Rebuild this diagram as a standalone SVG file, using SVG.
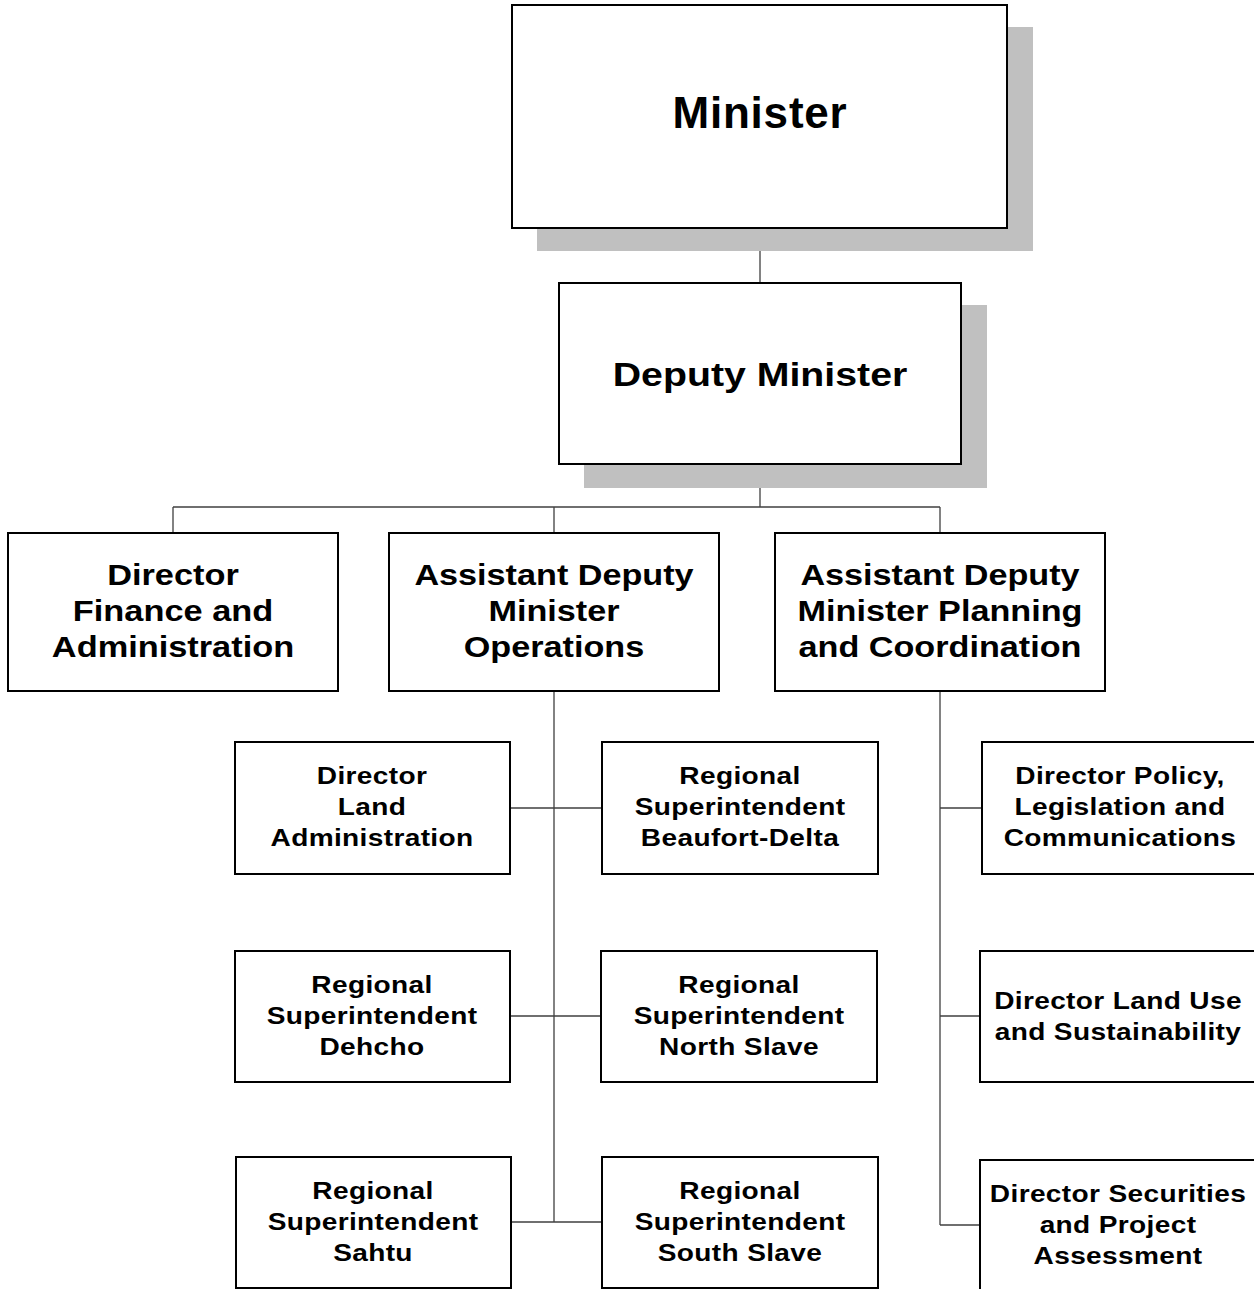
<svg xmlns="http://www.w3.org/2000/svg" width="1254" height="1289" viewBox="0 0 1254 1289">
<style>
.box{fill:#fff;stroke:#000;stroke-width:2}
.sh{fill:#c0c0c0}
.t{font-family:"Liberation Sans",Arial,sans-serif;font-weight:bold;fill:#000;text-anchor:middle}
.t1{font-size:44px;letter-spacing:0.8px}
.t2{font-size:33px}
.t3{font-size:30px}
.t4{font-size:24px;letter-spacing:0.3px}
.c{stroke:#404040;stroke-width:1.3;fill:none}
</style>
<rect width="1254" height="1289" fill="#fff"/>
<g id="connectors">
<path class="c" d="M760 228V283M760 464V507M173 507H940M173 507V533M554 507V533M940 507V533"/>
<path class="c" d="M554 691V1222M510 808H602M510 1016H601M511 1222H602"/>
<path class="c" d="M940 691V1225M940 808H982M940 1016H980M940 1225H980"/>
</g>
<g id="minister">
<rect class="sh" x="537" y="27" width="496" height="224"/>
<rect class="box" x="512" y="5" width="495" height="223"/>
<text class="t t1" x="760" y="128">Minister</text>
</g>
<g id="deputy-minister">
<rect class="sh" x="584" y="305" width="403" height="183"/>
<rect class="box" x="559" y="283" width="402" height="181"/>
<g transform="translate(760 0) scale(1.19 1)"><text class="t t2" x="0" y="386">Deputy Minister</text></g>
</g>
<g id="dir-finance">
<rect class="box" x="8" y="533" width="330" height="158"/>
<g transform="translate(173 0) scale(1.145 1)">
<text class="t t3" x="0" y="585">Director</text>
<text class="t t3" x="0" y="621">Finance and</text>
<text class="t t3" x="0" y="657">Administration</text>
</g>
</g>
<g id="adm-operations">
<rect class="box" x="389" y="533" width="330" height="158"/>
<g transform="translate(554 0) scale(1.14 1)">
<text class="t t3" x="0" y="585">Assistant Deputy</text>
<text class="t t3" x="0" y="621">Minister</text>
<text class="t t3" x="0" y="657">Operations</text>
</g>
</g>
<g id="adm-planning">
<rect class="box" x="775" y="533" width="330" height="158"/>
<g transform="translate(940 0) scale(1.14 1)">
<text class="t t3" x="0" y="585">Assistant Deputy</text>
<text class="t t3" x="0" y="621">Minister Planning</text>
<text class="t t3" x="0" y="657">and Coordination</text>
</g>
</g>
<g id="dir-land-admin">
<rect class="box" x="235" y="742" width="275" height="132"/>
<g transform="translate(372 0) scale(1.17 1)">
<text class="t t4" x="0" y="784">Director</text>
<text class="t t4" x="0" y="815">Land</text>
<text class="t t4" x="0" y="846">Administration</text>
</g>
</g>
<g id="rs-beaufort">
<rect class="box" x="602" y="742" width="276" height="132"/>
<g transform="translate(740 0) scale(1.17 1)">
<text class="t t4" x="0" y="784">Regional</text>
<text class="t t4" x="0" y="815">Superintendent</text>
<text class="t t4" x="0" y="846">Beaufort-Delta</text>
</g>
</g>
<g id="rs-dehcho">
<rect class="box" x="235" y="951" width="275" height="131"/>
<g transform="translate(372 0) scale(1.17 1)">
<text class="t t4" x="0" y="993">Regional</text>
<text class="t t4" x="0" y="1024">Superintendent</text>
<text class="t t4" x="0" y="1055">Dehcho</text>
</g>
</g>
<g id="rs-north-slave">
<rect class="box" x="601" y="951" width="276" height="131"/>
<g transform="translate(739 0) scale(1.17 1)">
<text class="t t4" x="0" y="993">Regional</text>
<text class="t t4" x="0" y="1024">Superintendent</text>
<text class="t t4" x="0" y="1055">North Slave</text>
</g>
</g>
<g id="rs-sahtu">
<rect class="box" x="236" y="1157" width="275" height="131"/>
<g transform="translate(373 0) scale(1.17 1)">
<text class="t t4" x="0" y="1199">Regional</text>
<text class="t t4" x="0" y="1230">Superintendent</text>
<text class="t t4" x="0" y="1261">Sahtu</text>
</g>
</g>
<g id="rs-south-slave">
<rect class="box" x="602" y="1157" width="276" height="131"/>
<g transform="translate(740 0) scale(1.17 1)">
<text class="t t4" x="0" y="1199">Regional</text>
<text class="t t4" x="0" y="1230">Superintendent</text>
<text class="t t4" x="0" y="1261">South Slave</text>
</g>
</g>
<g id="dir-policy">
<rect class="box" x="982" y="742" width="276" height="132"/>
<g transform="translate(1120 0) scale(1.17 1)">
<text class="t t4" x="0" y="784">Director Policy,</text>
<text class="t t4" x="0" y="815">Legislation and</text>
<text class="t t4" x="0" y="846">Communications</text>
</g>
</g>
<g id="dir-land-use">
<rect class="box" x="980" y="951" width="278" height="131"/>
<g transform="translate(1118 0) scale(1.17 1)">
<text class="t t4" x="0" y="1009">Director Land Use</text>
<text class="t t4" x="0" y="1040">and Sustainability</text>
</g>
</g>
<g id="dir-securities">
<rect class="box" x="980" y="1160" width="278" height="135"/>
<g transform="translate(1118 0) scale(1.17 1)">
<text class="t t4" x="0" y="1202">Director Securities</text>
<text class="t t4" x="0" y="1233">and Project</text>
<text class="t t4" x="0" y="1264">Assessment</text>
</g>
</g>
</svg>
